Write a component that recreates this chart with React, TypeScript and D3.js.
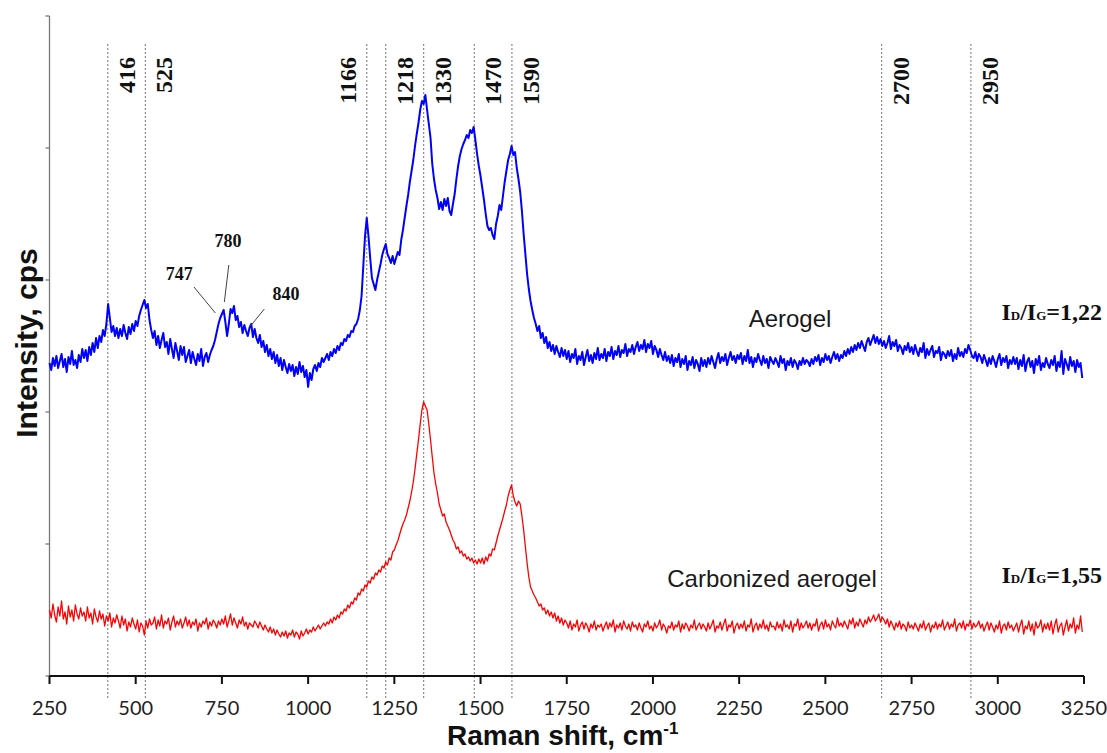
import React from 'react';
import * as d3 from 'd3';

// Raman shift sampling (cm-1)
const shiftStart = 250;
const shiftStep = 5;

// Aerogel spectrum (arbitrary intensity units, offset-stacked)
const aerogel: number[] = [
  313,306,318,310,320,308,315,322,309,317,304,319,312,325,311,316,308,321,314,327,
  318,326,315,329,321,333,324,338,328,340,334,346,340,352,372,358,344,350,340,348,
  338,347,340,351,343,337,349,342,352,345,355,350,360,366,371,376,368,372,356,346,
  338,345,331,340,328,336,343,329,334,322,337,327,318,333,325,316,330,321,329,314,
  320,326,313,324,317,311,322,315,327,310,319,323,314,321,326,330,336,344,352,358,
  362,366,354,340,352,367,363,370,356,360,349,354,343,351,345,340,348,352,339,347,
  338,333,341,329,335,324,331,320,327,317,324,313,321,310,318,306,316,309,303,312,
  305,311,300,309,302,314,304,310,299,306,289,303,296,307,311,305,313,309,318,314,
  318,322,316,324,320,327,323,330,326,333,331,337,335,341,339,345,344,350,352,357,
  366,380,410,440,458,440,418,398,392,386,396,404,412,421,427,432,422,418,413,420,
  412,418,424,421,436,446,458,470,481,494,505,516,530,542,553,566,575,572,581,566,
  552,538,512,497,486,478,467,474,466,477,470,478,465,461,472,482,497,510,520,527,
  532,536,541,538,546,543,549,536,522,510,500,488,476,462,450,446,448,441,437,452,
  460,471,466,480,494,505,516,522,530,521,524,508,497,484,465,442,422,402,387,375,
  366,358,352,345,350,338,343,333,339,328,334,325,331,322,330,324,319,328,320,326,
  317,325,314,322,318,327,312,320,316,324,311,319,326,315,321,313,323,317,328,316,
  322,318,327,315,324,320,329,317,325,321,330,319,326,323,332,320,327,324,331,322,
  329,334,325,331,327,336,324,332,328,335,322,330,326,319,327,321,316,324,315,320,
  313,321,310,318,314,322,309,317,312,320,306,315,311,319,308,316,312,305,318,310,
  316,309,318,312,320,314,308,317,323,313,319,315,322,311,318,324,316,320,313,321,
  317,323,312,320,315,326,313,319,309,318,314,322,316,311,320,313,317,308,319,315,
  312,318,314,309,320,313,317,306,315,311,318,309,316,313,307,315,311,318,312,316,
  314,310,317,312,319,315,321,311,318,314,322,316,320,313,319,324,317,322,315,321,
  318,325,320,327,322,329,324,331,326,333,328,335,330,325,334,338,331,336,341,333,
  339,332,337,330,335,328,333,340,327,334,330,336,325,331,328,322,330,326,333,324,
  329,322,331,325,320,328,324,333,318,327,321,326,330,319,325,323,329,316,324,322,
  318,325,320,326,315,322,317,328,320,324,319,327,323,331,326,320,318,324,315,322,
  319,313,321,316,310,318,312,320,315,309,317,322,311,318,314,320,308,316,312,319,
  312,318,307,316,310,321,305,314,318,309,315,303,317,311,320,306,313,309,318,312,
  308,316,311,320,305,314,309,325,302,317,312,306,319,310,315,304,316,309,313,298,
];

// Carbonized aerogel spectrum
const carbonized: number[] = [
  66,58,72,61,54,69,60,75,57,64,52,70,59,66,55,71,62,57,68,60,
  64,55,69,58,63,52,67,59,54,65,57,62,50,60,55,63,49,58,53,61,
  55,48,60,51,57,45,54,49,58,52,47,56,44,53,50,41,55,48,57,51,
  53,59,47,56,50,61,48,55,52,58,46,54,60,49,55,51,57,48,53,59,
  50,56,48,54,51,57,45,53,49,55,52,58,47,54,50,56,53,48,55,51,
  57,52,60,49,55,62,51,58,53,48,56,52,59,50,54,47,53,51,49,55,
  52,48,54,50,46,51,47,44,49,43,47,41,46,42,39,44,40,45,38,43,
  41,46,39,44,42,37,45,40,43,47,42,46,44,49,45,48,51,47,50,53,
  50,54,52,57,53,59,56,61,58,64,62,67,65,71,68,74,72,78,76,83,
  81,87,85,91,89,95,93,99,97,103,101,106,104,110,108,114,111,118,116,124,
  126,131,135,141,147,152,156,161,168,175,184,194,207,222,236,252,266,274,270,266,
  252,236,219,203,192,183,172,166,160,162,154,150,146,141,136,133,127,129,123,125,
  120,122,117,119,115,118,113,116,112,117,113,118,112,119,115,122,120,127,126,133,
  140,146,152,158,165,171,180,186,191,180,174,170,175,172,160,146,129,113,99,89,
  85,81,78,74,70,72,66,68,62,66,60,64,58,63,55,60,53,58,51,56,
  53,48,55,46,52,49,56,45,51,54,47,53,50,44,52,48,55,46,51,49,
  52,45,50,54,47,53,49,56,44,51,48,53,46,55,50,47,52,45,54,49,
  51,46,53,48,44,52,49,55,47,50,45,53,48,51,56,46,52,49,43,50,
  48,54,46,51,49,55,44,52,47,53,50,45,51,48,56,46,50,53,47,52,
  49,45,53,47,51,56,44,50,48,54,46,52,57,45,51,49,55,43,50,53,
  47,52,48,55,45,51,49,57,44,50,53,46,52,48,56,47,51,45,54,49,
  50,46,54,48,52,45,56,49,51,47,55,44,52,50,57,46,53,48,51,55,
  48,53,46,52,50,57,45,51,54,47,56,49,52,46,55,51,48,58,50,53,
  49,55,51,47,56,52,58,48,54,50,57,53,49,56,52,59,54,57,61,55,
  58,62,54,59,56,52,57,49,55,51,46,53,49,55,47,52,50,45,54,48,
  51,47,53,49,45,52,48,55,46,50,53,44,51,48,54,47,52,49,56,46,
  50,54,47,52,49,57,45,51,53,48,55,46,52,50,56,47,53,49,51,55,
  48,52,45,50,54,46,53,49,44,51,47,55,43,50,52,46,54,48,51,45,
  49,53,44,51,56,42,50,47,55,45,52,41,54,48,50,56,44,52,47,53,
  46,55,42,51,57,44,50,53,41,49,56,45,52,48,58,43,51,47,60,44,
];

// Peak marker lines (position on axis) and their labels
const peakPositions = [419, 528, 1170, 1225, 1335, 1482, 1591, 2663, 2922];
const peakLabels = ['416', '525', '1166', '1218', '1330', '1470', '1590', '2700', '2950'];

// Axis ticks
const xTicks = [250, 500, 750, 1000, 1250, 1500, 1750, 2000, 2250, 2500, 2750, 3000, 3250];
const yTicks = [0, 132, 264, 396, 528, 660];

// Small-peak annotations on the aerogel curve
const annotLabels = ['747', '780', '840'];

export default function App() {
  const W = 1107, H = 753;
  const x = d3.scaleLinear().domain([250, 3250]).range([49.5, 1084]);
  const y = d3.scaleLinear().domain([0, 660]).range([676, 16]);

  const line = d3.line<number>()
    .x((_, i) => x(shiftStart + i * shiftStep))
    .y((d) => y(d));

  // annotation layout (data coordinates)
  const annotLayout = [
    { lx: 626, ly: 396, x1: 669, y1: 389, x2: 731, y2: 363 },
    { lx: 768, ly: 429, x1: 770, y1: 411, x2: 757, y2: 374 },
    { lx: 936, ly: 376, x1: 873, y1: 367, x2: 833, y2: 350 },
  ];
  const labelSide = [1, 1, -1, 1, 1, 1, 1, 1, 1];

  const serif = "'Liberation Serif', 'Times New Roman', serif";
  const sans = "'Liberation Sans', Arial, sans-serif";

  return (
    <svg width={W} height={H} style={{ position: 'absolute', left: 0, top: 0, background: '#fff' }}>
      <rect x={0} y={0} width={W} height={H} fill="#fff" />
      {/* peak dotted lines */}
      {peakPositions.map((p, i) => (
        <line key={'pl' + i} x1={x(p)} x2={x(p)} y1={44} y2={698}
          stroke="#8a8a8a" strokeWidth={1.2} strokeDasharray="2,2" />
      ))}
      {peakPositions.map((p, i) => (
        <text key={'plt' + i}
          transform={`translate(${x(p) + labelSide[i] * 19},57) rotate(-90)`}
          textAnchor="end" dominantBaseline="central"
          fontFamily={serif} fontWeight="bold" fontSize={24} fill="#111">
          {peakLabels[i]}
        </text>
      ))}

      {/* y axis */}
      <line x1={49.5} x2={49.5} y1={y(660)} y2={y(0)} stroke="#777" strokeWidth={1.3} />
      {yTicks.map((t) => (
        <line key={'yt' + t} x1={45.5} x2={49.5} y1={y(t)} y2={y(t)} stroke="#777" strokeWidth={1.3} />
      ))}

      {/* curves */}
      <path d={line(aerogel) || ''} fill="none" stroke="#0000ff" strokeWidth={2} strokeLinejoin="round" />
      <path d={line(carbonized) || ''} fill="none" stroke="#ff0000" strokeWidth={1.3} strokeLinejoin="round" />

      {/* x axis */}
      <line x1={x(250)} x2={x(3250)} y1={676} y2={676} stroke="#111" strokeWidth={2} />
      {xTicks.map((t) => (
        <g key={'xt' + t}>
          <line x1={x(t)} x2={x(t)} y1={676} y2={684} stroke="#111" strokeWidth={2} />
          <text x={x(t)} y={715} textAnchor="middle" fontFamily="Lato, 'Open Sans', sans-serif"
            fontSize={20} fill="#222">{t}</text>
        </g>
      ))}

      {/* annotations */}
      {annotLabels.map((lab, i) => {
        const a = annotLayout[i];
        return (
          <g key={'an' + i}>
            <line x1={x(a.x1)} y1={y(a.y1)} x2={x(a.x2)} y2={y(a.y2)} stroke="#444" strokeWidth={1} />
            <text x={x(a.lx)} y={y(a.ly)} textAnchor="middle" fontFamily={serif} fontWeight="bold"
              fontSize={18} fill="#111">{lab}</text>
          </g>
        );
      })}

      {/* series labels */}
      <text x={790} y={327} textAnchor="middle" fontFamily={sans} fontSize={24} fill="#1a1a1a">Aerogel</text>
      <text x={772} y={587} textAnchor="middle" fontFamily={sans} fontSize={24} fill="#1a1a1a">Carbonized aerogel</text>

      <text x={1102} y={320} textAnchor="end" fontFamily={serif} fontWeight="bold" fontSize={24} fill="#111">
        I<tspan fontSize={13}>D</tspan>/I<tspan fontSize={13}>G</tspan>=1,22
      </text>
      <text x={1102} y={583} textAnchor="end" fontFamily={serif} fontWeight="bold" fontSize={24} fill="#111">
        I<tspan fontSize={13}>D</tspan>/I<tspan fontSize={13}>G</tspan>=1,55
      </text>

      {/* axis titles */}
      <text transform="translate(37,343) rotate(-90)" textAnchor="middle" fontFamily={sans}
        fontWeight="bold" fontSize={30} fill="#111">Intensity, cps</text>
      <text x={447} y={745} fontFamily={sans} fontWeight="bold" fontSize={28} fill="#111">
        Raman shift, cm<tspan fontSize={17} dy={-11}>-1</tspan>
      </text>
    </svg>
  );
}
